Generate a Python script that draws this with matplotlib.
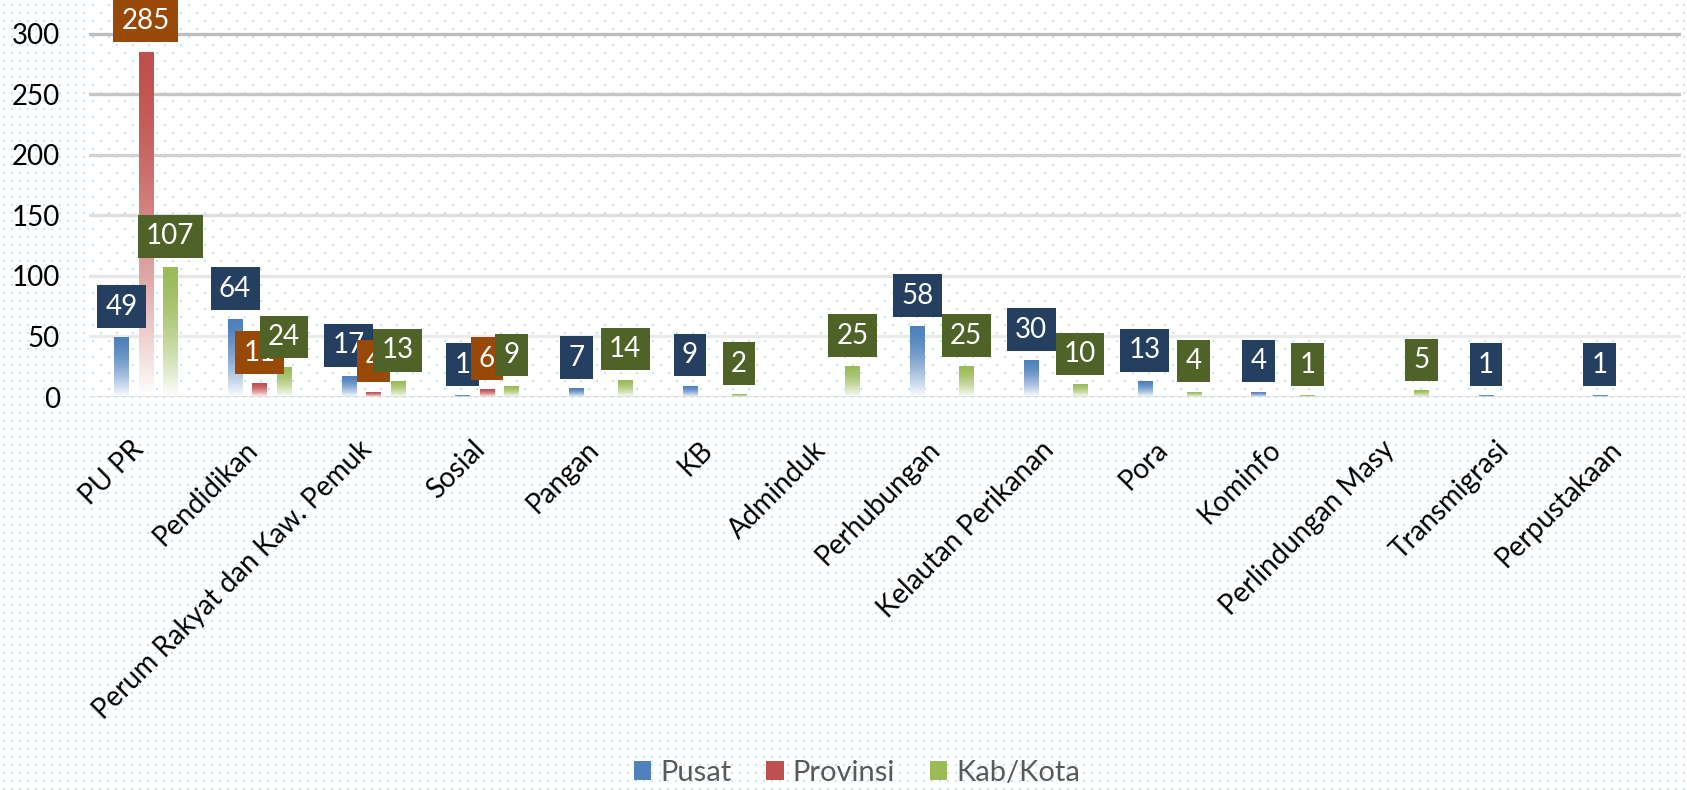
import numpy as np
import matplotlib
matplotlib.use("Agg")
import matplotlib.pyplot as plt
import matplotlib.transforms as mtransforms
from matplotlib.colors import to_rgb
from matplotlib.patches import Patch

plt.rcParams['font.family'] = ['Lato', 'DejaVu Sans']

categories = ["PU PR", "Pendidikan", "Perum Rakyat dan Kaw. Pemuk", "Sosial", "Pangan", "KB",
              "Adminduk", "Perhubungan", "Kelautan Perikanan", "Pora", "Kominfo",
              "Perlindungan Masy", "Transmigrasi", "Perpustakaan"]
nan = np.nan
pusat = [49, 64, 17, 1, 7, 9, nan, 58, 30, 13, 4, nan, 1, 1]
provinsi = [285, 11, 4, 6, nan, nan, nan, nan, nan, nan, nan, nan, nan, nan]
kabkota = [107, 24, 13, 9, 14, 2, 25, 25, 10, 4, 1, 5, nan, nan]
series_names = ["Pusat", "Provinsi", "Kab/Kota"]
yticks = [0, 50, 100, 150, 200, 250, 300]

series = [pusat, provinsi, kabkota]
bar_colors = ["#4F81BD", "#C0504D", "#9BBB59"]
box_colors = ["#243F60", "#984807", "#4F6228"]
grid_colors = ["#EBEBEB", "#E6E6E6", "#DEDEDE", "#D2D2D2", "#C6C6C6", "#BEBEBE"]

W, H = 1687, 790
AX_L, AX_R, AX_B = 89, 1681, 397
fig = plt.figure(figsize=(W / 100, H / 100), dpi=100)
fig.patch.set_facecolor("white")

# dotted background pattern
bg = np.ones((H, W, 3))
dot = np.array([190, 232, 250]) / 255.0
mask = np.zeros((H, W), dtype=bool)
for dy in range(2):
    for dx in range(2):
        mask[4 + dy::8, 3 + dx::8] = True
inner = np.zeros((H, W), dtype=bool)
for r0 in range(4, AX_B, 8):
    off = 0 if ((r0 // 8) % 2 == 0) else 8
    for dy in range(2):
        for dx in range(2):
            if r0 + dy < AX_B:
                inner[r0 + dy, AX_L + 3 + off + dx:AX_R:16] = True
region = np.zeros((H, W), dtype=bool)
region[:AX_B, AX_L:AX_R] = True
final = np.where(region, inner, mask)
bg[final] = dot
fig.figimage(bg[::-1], xo=0, yo=0, zorder=0, origin='lower')

ax = fig.add_axes([AX_L / W, 1 - AX_B / H, (AX_R - AX_L) / W, AX_B / H])
ax.set_zorder(2)
ax.set_facecolor("none")

ymax = 328
width = 0.125
offsets = [-0.215, 0.0, 0.215]

for j, vals in enumerate(series):
    c = np.array(to_rgb(bar_colors[j]))
    for i, v in enumerate(vals):
        if not np.isfinite(v):
            continue
        x0 = i + offsets[j] - width / 2
        t = np.linspace(0, 1, 200)[:, None]  # 0 top, 1 bottom
        mix = t ** 1.6
        grad = (1 - mix)[..., None] * c + mix[..., None] * np.ones(3)
        grad = np.repeat(grad, 2, axis=1)
        ax.imshow(grad, extent=[x0, x0 + width, 0, v], aspect='auto',
                  interpolation='bilinear', zorder=2)

for j, vals in enumerate(series):
    for i, v in enumerate(vals):
        if not np.isfinite(v):
            continue
        ax.annotate(f"{int(v)}", xy=(i + offsets[j], v), xytext=(0, 31),
                    textcoords='offset pixels', ha='center', va='center',
                    fontsize=20, color='white', zorder=5 + j, annotation_clip=False,
                    bbox=dict(boxstyle='square,pad=0.3', fc=box_colors[j], ec='none'))

ax.set_xlim(-0.5, len(categories) - 0.5)
ax.set_ylim(0, ymax)

for y, gc in zip(yticks[1:], grid_colors):
    ax.axhline(y, color=gc, lw=2.4, zorder=1)
ax.axhline(0, color="#D9D9D9", lw=1.8, zorder=3)

for s in ax.spines.values():
    s.set_visible(False)

ax.set_yticks(yticks)
ax.set_yticklabels([str(y) for y in yticks], fontsize=20, color="#000000")
ax.tick_params(axis='y', length=0, pad=21)
ax.set_xticks(range(len(categories)))
ax.set_xticklabels([])
ax.tick_params(axis='x', length=0)
lbl_tr = ax.get_xaxis_transform() + mtransforms.ScaledTranslation(-0.06, -0.485, fig.dpi_scale_trans)
for i, name in enumerate(categories):
    ax.text(i, 0, name, transform=lbl_tr, rotation=45, ha='right', va='center',
            rotation_mode='anchor', fontsize=20, color="#000000", clip_on=False)

handles = [Patch(facecolor=bar_colors[k], edgecolor='none') for k in range(3)]
leg = fig.legend(handles, series_names, loc='center', bbox_to_anchor=(857 / W, 1 - 773 / H),
                 ncol=3, frameon=False, fontsize=21, labelcolor="#595959",
                 handlelength=0.6, handleheight=0.6, handletextpad=0.3, columnspacing=1.2)
leg.set_zorder(3)

fig.savefig("out.png", dpi=100)
